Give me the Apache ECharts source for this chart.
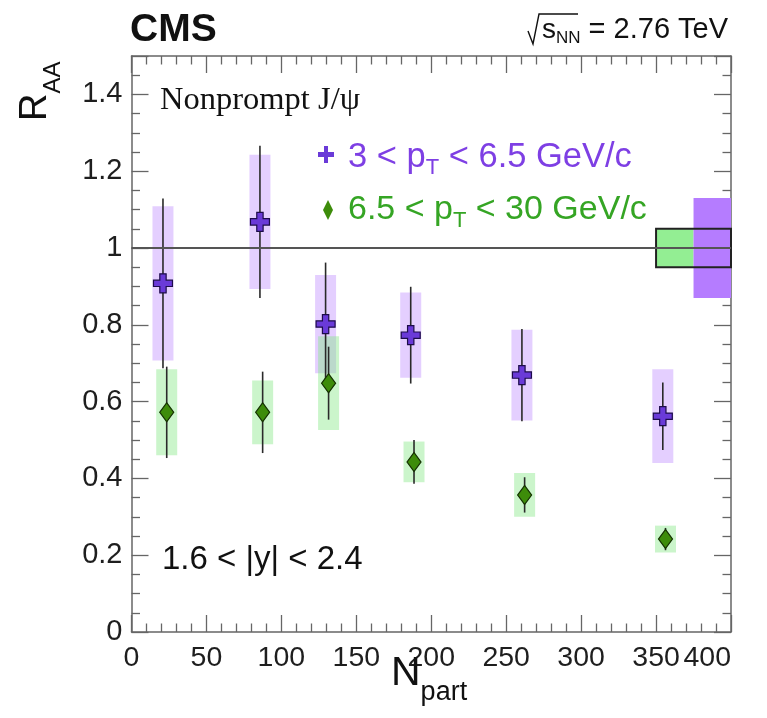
<!DOCTYPE html>
<html><head><meta charset="utf-8">
<script src="https://cdn.jsdelivr.net/npm/echarts@6/dist/echarts.min.js"></script>
<style>html,body{margin:0;padding:0;background:#fff}#c{width:767px;height:718px}</style>
</head><body><div id="c"></div>
<script>
// ---- data ----
const npartLowPt = [21, 85.7, 129.5, 186.3, 260.5, 354.5];
const raaLowPt   = [0.908, 1.068, 0.802, 0.773, 0.669, 0.562];
const statLowPt  = [0.221, 0.198, 0.160, 0.126, 0.120, 0.088];
const systLowPt  = [0.201, 0.175, 0.128, 0.111, 0.118, 0.122];

const npartHighPt = [23.5, 87.5, 131.5, 188.5, 262.3, 356.3];
const raaHighPt   = [0.572, 0.572, 0.648, 0.443, 0.357, 0.242];
const statHighPt  = [0.119, 0.106, 0.095, 0.057, 0.046, 0.029];
const systHighPt  = [0.112, 0.083, 0.122, 0.053, 0.057, 0.035];

// global uncertainty boxes at R_AA = 1
const globalX0  = [350, 375];
const globalX1  = [375, 400];
const globalErr = [0.05, 0.13];
const commonBoxX = [350, 400];
const commonErr = 0.05;
const refLine = 1;

const xTicks = [0, 50, 100, 150, 200, 250, 300, 350, 400];
const yTicks = [0, 0.2, 0.4, 0.6, 0.8, 1, 1.2, 1.4];

// ---- styles ----
const SANS = 'Liberation Sans, Arial, Helvetica, sans-serif';
const SERIF = 'Liberation Serif, Times New Roman, serif';
const PURPLE_TXT = '#7e3fe4';
const GREEN_TXT = '#35a524';
const BOX_HALF = 10.5;

const ctx = document.createElement('canvas').getContext('2d');
function tw(t, size, fam, w) { ctx.font = (w || 'normal') + ' ' + size + 'px ' + fam; return ctx.measureText(t).width; }
function seq(x, y, parts, color) {
  const els = []; let cx = x;
  for (const p of parts) {
    const fam = p[3] || SANS, w = p[4] || 'normal';
    els.push({type: 'text', x: cx, y: y + (p[2] || 0), z: 100,
      style: {text: p[0], fontSize: p[1], fontFamily: fam, fontWeight: w, fill: color, verticalAlign: 'middle', align: 'left'}});
    cx += tw(p[0], p[1], fam, w);
  }
  return {els, end: cx};
}

function boxSeries(xs, ys, errs, fill) {
  return {type: 'custom', silent: true, z: 2, data: xs.map((x, i) => [x, ys[i], errs[i]]),
    renderItem: (p, api) => {
      const x = api.value(0), y = api.value(1), e = api.value(2);
      const t = api.coord([x, y + e]), b = api.coord([x, y - e]);
      return {type: 'rect', shape: {x: t[0] - BOX_HALF, y: t[1], width: 2 * BOX_HALF, height: b[1] - t[1]}, style: {fill}};
    }};
}
function errSeries(xs, ys, errs) {
  return {type: 'custom', silent: true, z: 3, data: xs.map((x, i) => [x, ys[i], errs[i]]),
    renderItem: (p, api) => {
      const x = api.value(0), y = api.value(1), e = api.value(2);
      const t = api.coord([x, y + e]), b = api.coord([x, y - e]);
      return {type: 'line', shape: {x1: t[0], y1: t[1], x2: b[0], y2: b[1]}, style: {stroke: '#2a2a2a', lineWidth: 1.6}};
    }};
}
const globalSeries = {type: 'custom', silent: true, z: 2,
  data: globalX0.map((x, i) => [x, globalX1[i], globalErr[i]]),
  renderItem: (p, api) => {
    const a = api.coord([api.value(0), refLine + api.value(2)]);
    const b = api.coord([api.value(1), refLine - api.value(2)]);
    const fills = ['#93ee93', '#b57cff'];
    return {type: 'rect', shape: {x: a[0], y: a[1], width: b[0] - a[0], height: b[1] - a[1]}, style: {fill: fills[p.dataIndex]}};
  }};
const commonSeries = {type: 'custom', silent: true, z: 4,
  data: [[commonBoxX[0], commonBoxX[1], commonErr]],
  renderItem: (p, api) => {
    const a = api.coord([api.value(0), refLine + api.value(2)]);
    const b = api.coord([api.value(1), refLine - api.value(2)]);
    return {type: 'rect', shape: {x: a[0], y: a[1], width: b[0] - a[0], height: b[1] - a[1]}, style: {fill: 'none', stroke: '#222', lineWidth: 2}};
  }};

const CROSS = 'path://M6,0H12V6H18V12H12V18H6V12H0V6H6Z';

const axisCommon = {
  min: 0, axisLine: {show: true, onZero: false, lineStyle: {color: '#666', width: 1.5}},
  axisTick: {show: true, inside: true, length: 17, lineStyle: {color: '#666', width: 1.3}},
  minorTick: {show: true, length: 8.5, lineStyle: {color: '#666', width: 1.3}},
  splitLine: {show: false}
};
const labelStyle = {color: '#1e1e1e', fontSize: 29, fontFamily: SANS};

const chart = echarts.init(document.getElementById('c'));

// annotations
const g = [];
g.push(...seq(130, 30, [['CMS', 39, 0, SANS, 'bold']], '#111').els);
const e1 = seq(542, 30, [['s', 28, 0], ['NN', 17, 8], [' = 2.76 TeV', 29, 0]], '#111');
g.push(...e1.els);
g.push({type: 'polyline', z: 100, shape: {points: [[528, 31], [533, 44], [539, 14], [578, 14]]}, style: {stroke: '#111', fill: null, lineWidth: 1.4}});
g.push(...seq(160, 100, [['Nonprompt J/\u03c8', 32.5, 0, SERIF]], '#111').els);
g.push(...seq(348, 157, [['3 < p', 34.5, 0], ['T', 22, 11], [' < 6.5 GeV/c', 34.5, 0]], PURPLE_TXT).els);
g.push(...seq(348, 210, [['6.5 < p', 34, 0], ['T', 22, 11], [' < 30 GeV/c', 34, 0]], GREEN_TXT).els);
g.push(...seq(162, 560, [['1.6 < |y| < 2.4', 33, 0]], '#111').els);
// legend icons
g.push({type: 'polygon', z: 100, shape: {points: [[318, 152], [324, 152], [324, 146], [328, 146], [328, 152], [334, 152], [334, 157], [328, 157], [328, 163], [324, 163], [324, 157], [318, 157]]}, style: {fill: '#6a3ad8'}});
g.push({type: 'polygon', z: 100, shape: {points: [[328, 200], [333, 210], [328, 220], [323, 210]]}, style: {fill: '#3d8c0a'}});
// axis titles
const nx = seq(391, 674, [['N', 41, 0], ['part', 27, 19]], '#111');
g.push(...nx.els);
g.push({type: 'group', x: 36, y: 121, rotation: Math.PI / 2, children: seq(0, 0, [['R', 38, 0], ['AA', 24, 17]], '#111').els});

chart.setOption({
  animation: false,
  backgroundColor: '#fff',
  grid: {left: 131.5, right: 36, top: 56, bottom: 86, containLabel: false},
  xAxis: [
    Object.assign({}, axisCommon, {type: 'value', max: 400, interval: 50, position: 'bottom',
      minorTick: Object.assign({}, axisCommon.minorTick, {splitNumber: 5}),
      axisLabel: Object.assign({}, labelStyle, {fontSize: 28.5, margin: 12, alignMaxLabel: 'right', formatter: v => xTicks.includes(v) ? String(v) : ''})}),
    Object.assign({}, axisCommon, {type: 'value', max: 400, interval: 50, position: 'top',
      minorTick: Object.assign({}, axisCommon.minorTick, {splitNumber: 5}), axisLabel: {show: false}})
  ],
  yAxis: [
    Object.assign({}, axisCommon, {type: 'value', max: 1.5, interval: 0.2, position: 'left',
      minorTick: Object.assign({}, axisCommon.minorTick, {splitNumber: 4}),
      axisLabel: Object.assign({}, labelStyle, {margin: 9, showMaxLabel: false,
        formatter: v => { const t = yTicks.find(k => Math.abs(k - v) < 1e-6); return t === undefined ? '' : String(t); }})}),
    Object.assign({}, axisCommon, {type: 'value', max: 1.5, interval: 0.2, position: 'right',
      minorTick: Object.assign({}, axisCommon.minorTick, {splitNumber: 4}), axisLabel: {show: false}})
  ],
  graphic: g,
  series: [
    {type: 'line', data: [], markLine: {silent: true, symbol: 'none', label: {show: false},
      lineStyle: {color: '#555', width: 2, type: 'solid'}, data: [{yAxis: refLine}]}, z: 1},
    boxSeries(npartLowPt, raaLowPt, systLowPt, 'rgba(190,140,255,0.42)'),
    boxSeries(npartHighPt, raaHighPt, systHighPt, 'rgba(130,230,130,0.42)'),
    globalSeries,
    commonSeries,
    errSeries(npartLowPt, raaLowPt, statLowPt),
    errSeries(npartHighPt, raaHighPt, statHighPt),
    {type: 'scatter', z: 5, symbol: CROSS, symbolSize: 19, data: npartLowPt.map((x, i) => [x, raaLowPt[i]]),
      itemStyle: {color: '#6a3ad8', borderColor: '#1d0c4a', borderWidth: 1.2, opacity: 1}},
    {type: 'scatter', z: 5, symbol: 'diamond', symbolSize: [14, 19], data: npartHighPt.map((x, i) => [x, raaHighPt[i]]),
      itemStyle: {color: '#3d8c0a', borderColor: '#143000', borderWidth: 1.2, opacity: 1}}
  ]
});
</script></body></html>
